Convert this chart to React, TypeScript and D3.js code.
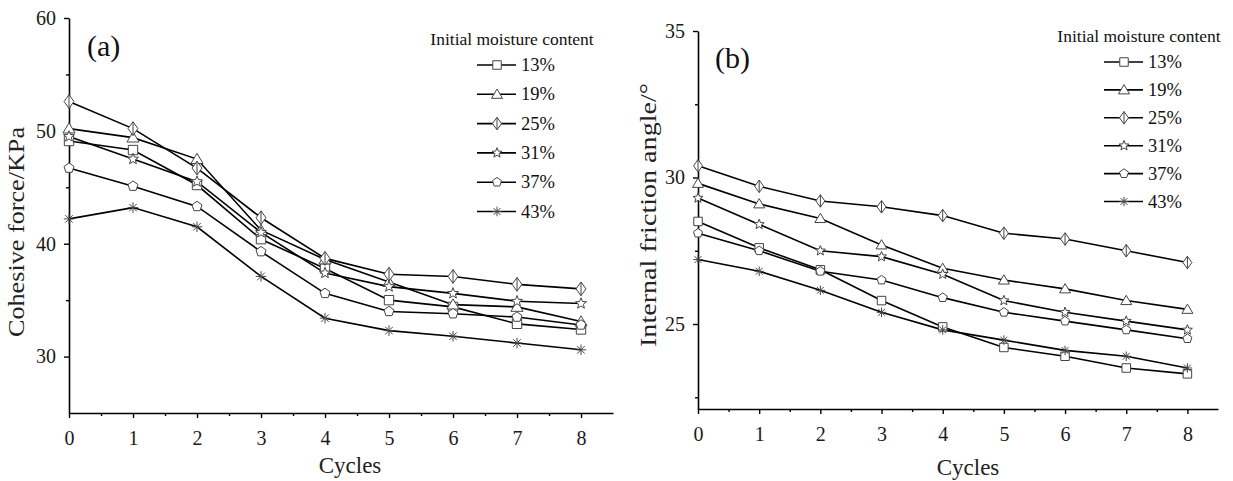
import React, { useEffect, useRef } from 'react';
import * as d3 from 'd3';

// cycles on the x axis
const cycles = [0, 1, 2, 3, 4, 5, 6, 7, 8];
const moistureLabels = ['13%', '19%', '25%', '31%', '37%', '43%'];
const markerKinds = ['square', 'triangle', 'diamond', 'star', 'pentagon', 'asterisk'];

// (a) cohesive force, KPa
const cohesion13 = [49.1, 48.3, 45.2, 40.4, 37.8, 35.0, 34.4, 32.9, 32.4];
const cohesion19 = [50.2, 49.4, 47.5, 41.2, 38.6, 36.6, 34.6, 34.4, 33.1];
const cohesion25 = [52.6, 50.2, 46.7, 42.3, 38.7, 37.3, 37.1, 36.4, 36.0];
const cohesion31 = [49.5, 47.5, 45.5, 41.0, 37.4, 36.2, 35.6, 34.9, 34.7];
const cohesion37 = [46.7, 45.1, 43.3, 39.3, 35.6, 34.0, 33.8, 33.5, 32.8];
const cohesion43 = [42.2, 43.2, 41.5, 37.1, 33.4, 32.3, 31.8, 31.2, 30.6];

// (b) internal friction angle, degrees
const friction13 = [28.5, 27.6, 26.85, 25.8, 24.9, 24.2, 23.9, 23.5, 23.3];
const friction19 = [29.8, 29.1, 28.6, 27.7, 26.9, 26.5, 26.2, 25.8, 25.5];
const friction25 = [30.4, 29.7, 29.2, 29.0, 28.7, 28.1, 27.9, 27.5, 27.1];
const friction31 = [29.3, 28.4, 27.5, 27.3, 26.7, 25.8, 25.4, 25.1, 24.8];
const friction37 = [28.1, 27.5, 26.8, 26.5, 25.9, 25.4, 25.1, 24.8, 24.5];
const friction43 = [27.2, 26.8, 26.15, 25.4, 24.8, 24.45, 24.1, 23.9, 23.5];

const cohesionTicks = [30, 40, 50, 60];
const cohesionMinor = [35, 45, 55];
const frictionTicks = [25, 30, 35];
const frictionMinor = [22.5, 27.5, 32.5];

const FONT = '"Liberation Serif", "Times New Roman", serif';

function markerPath(kind: string, s: number): string {
  const h = s / 2;
  switch (kind) {
    case 'square':
      return `M${-h * 0.85},${-h * 0.85}H${h * 0.85}V${h * 0.85}H${-h * 0.85}Z`;
    case 'triangle':
      return `M0,${-h * 1.05}L${h * 1.1},${h * 0.8}L${-h * 1.1},${h * 0.8}Z`;
    case 'diamond':
      return `M0,${-h * 1.25}L${h * 0.9},0L0,${h * 1.25}L${-h * 0.9},0Z M0,${-h * 1.25}V${h * 1.25}`;
    case 'star': {
      const pts: string[] = [];
      for (let i = 0; i < 10; i++) {
        const r = i % 2 === 0 ? h * 1.05 : h * 0.45;
        const a = -Math.PI / 2 + (i * Math.PI) / 5;
        pts.push(`${r * Math.cos(a)},${r * Math.sin(a)}`);
      }
      return 'M' + pts.join('L') + 'Z';
    }
    case 'pentagon': {
      const pts: string[] = [];
      for (let i = 0; i < 5; i++) {
        const a = -Math.PI / 2 + (i * 2 * Math.PI) / 5;
        pts.push(`${h * 0.95 * Math.cos(a)},${h * 0.95 * Math.sin(a)}`);
      }
      return 'M' + pts.join('L') + 'Z';
    }
    default: {
      // asterisk: 4 crossing strokes
      const r = h * 0.95;
      const d = r * 0.72;
      return `M0,${-r}V${r}M${-r},0H${r}M${-d},${-d}L${d},${d}M${-d},${d}L${d},${-d}`;
    }
  }
}

interface PanelSpec {
  series: number[][];
  xRange: [number, number];
  yDomain: [number, number];
  yRange: [number, number];
  ticks: number[];
  minor: number[];
  letter: string;
  letterPos: [number, number];
  yTitle: string;
  yTitlePos: [number, number];
  yTitleLen: number;
  xTitlePos: [number, number];
  legendX: number;
  legendY: number;
  legendStep: number;
  markerSize: number;
}

const panels: PanelSpec[] = [
  {
    series: [cohesion13, cohesion19, cohesion25, cohesion31, cohesion37, cohesion43],
    xRange: [69, 613],
    yDomain: [25, 60],
    yRange: [413, 18],
    ticks: cohesionTicks,
    minor: cohesionMinor,
    letter: '(a)',
    letterPos: [87, 56],
    yTitle: 'Cohesive force/KPa',
    yTitlePos: [24, 232],
    yTitleLen: 210,
    xTitlePos: [350, 473],
    legendX: 497,
    legendY: 65,
    legendStep: 29.3,
    markerSize: 11
  },
  {
    series: [friction13, friction19, friction25, friction31, friction37, friction43],
    xRange: [698, 1218],
    yDomain: [22.1, 35],
    yRange: [409, 31],
    ticks: frictionTicks,
    minor: frictionMinor,
    letter: '(b)',
    letterPos: [715, 68],
    yTitle: 'Internal friction angle/\u00B0',
    yTitlePos: [656, 215],
    yTitleLen: 264,
    xTitlePos: [968, 475],
    legendX: 1124,
    legendY: 62,
    legendStep: 27.9,
    markerSize: 10
  }
];

const App: React.FC = () => {
  const svgRef = useRef<SVGSVGElement>(null);

  useEffect(() => {
    if (!svgRef.current) return;
    const svg = d3.select(svgRef.current);
    svg.selectAll('*').remove();

    panels.forEach((p) => {
      const x = d3.scaleLinear().domain([0, 8.5]).range(p.xRange);
      const y = d3.scaleLinear().domain(p.yDomain).range(p.yRange);
      const g = svg.append('g');

      // Axes
      const xAxis = g.append('g')
        .attr('transform', `translate(0,${p.yRange[0]})`)
        .call(d3.axisBottom(x).tickValues(cycles).tickFormat(d3.format('d')).tickSize(5).tickSizeOuter(0).tickPadding(13));
      g.append('g')
        .attr('transform', `translate(0,${p.yRange[0]})`)
        .call(d3.axisBottom(x).tickValues(cycles.map(c => c + 0.5).slice(0, 8)).tickFormat(() => '').tickSize(3).tickSizeOuter(0))
        .select('.domain').remove();

      const yAxis = g.append('g')
        .attr('transform', `translate(${p.xRange[0]},0)`)
        .call(d3.axisLeft(y).tickValues(p.ticks).tickFormat(d3.format('d')).tickSize(5).tickSizeOuter(0).tickPadding(8));
      g.append('g')
        .attr('transform', `translate(${p.xRange[0]},0)`)
        .call(d3.axisLeft(y).tickValues(p.minor).tickFormat(() => '').tickSize(3).tickSizeOuter(0))
        .select('.domain').remove();

      g.selectAll('.domain').attr('stroke', '#000').attr('stroke-width', 1.6);
      g.selectAll('.tick line').attr('stroke', '#000').attr('stroke-width', 1.4);
      [xAxis, yAxis].forEach(a => a.selectAll('text')
        .style('font-family', FONT)
        .style('font-size', '20px')
        .attr('fill', '#1a1a1a'));

      // Series lines and markers
      const line = d3.line<number>()
        .x((_, i) => x(cycles[i]))
        .y(d => y(d));

      p.series.forEach((vals) => {
        g.append('path')
          .datum(vals)
          .attr('d', line)
          .attr('fill', 'none')
          .attr('stroke', '#000')
          .attr('stroke-width', 1.6);
      });

      p.series.forEach((vals, si) => {
        const kind = markerKinds[si];
        g.selectAll(null)
          .data(vals)
          .enter().append('path')
          .attr('transform', (d, i) => `translate(${x(cycles[i])},${y(d)})`)
          .attr('d', markerPath(kind, p.markerSize))
          .attr('fill', kind === 'asterisk' ? 'none' : '#fff')
          .attr('stroke', '#444')
          .attr('stroke-width', 1);
      });

      // Legend
      const leg = g.append('g');
      leg.append('text')
        .attr('x', p.legendX + 15)
        .attr('y', p.legendY - 20)
        .attr('text-anchor', 'middle')
        .style('font-family', FONT)
        .style('font-size', '17.5px')
        .attr('fill', '#111')
        .text('Initial moisture content');

      moistureLabels.forEach((lab, i) => {
        const cy = p.legendY + i * p.legendStep;
        leg.append('line')
          .attr('x1', p.legendX - 20).attr('x2', p.legendX + 19)
          .attr('y1', cy).attr('y2', cy)
          .attr('stroke', '#000').attr('stroke-width', 1.6);
        leg.append('path')
          .attr('transform', `translate(${p.legendX},${cy})`)
          .attr('d', markerPath(markerKinds[i], 10))
          .attr('fill', markerKinds[i] === 'asterisk' ? 'none' : '#fff')
          .attr('stroke', '#444')
          .attr('stroke-width', 1);
        leg.append('text')
          .attr('x', p.legendX + 24)
          .attr('y', cy + 6)
          .style('font-family', FONT)
          .style('font-size', '18.5px')
          .attr('fill', '#111')
          .text(lab);
      });

      // Panel letter and titles
      g.append('text')
        .attr('x', p.letterPos[0]).attr('y', p.letterPos[1])
        .style('font-family', FONT).style('font-size', '30px')
        .attr('fill', '#111')
        .text(p.letter);

      g.append('text')
        .attr('transform', `translate(${p.yTitlePos[0]},${p.yTitlePos[1]}) rotate(-90)`)
        .attr('text-anchor', 'middle')
        .attr('textLength', p.yTitleLen)
        .attr('lengthAdjust', 'spacingAndGlyphs')
        .style('font-family', FONT).style('font-size', '23px')
        .attr('fill', '#222')
        .text(p.yTitle);

      g.append('text')
        .attr('x', p.xTitlePos[0]).attr('y', p.xTitlePos[1])
        .attr('text-anchor', 'middle')
        .style('font-family', FONT).style('font-size', '23px')
        .attr('fill', '#222')
        .text('Cycles');
    });
  }, []);

  return (
    <svg
      ref={svgRef}
      width={1233}
      height={481}
      style={{ position: 'absolute', left: 0, top: 0, background: '#fff' }}
    />
  );
};

export default App;
